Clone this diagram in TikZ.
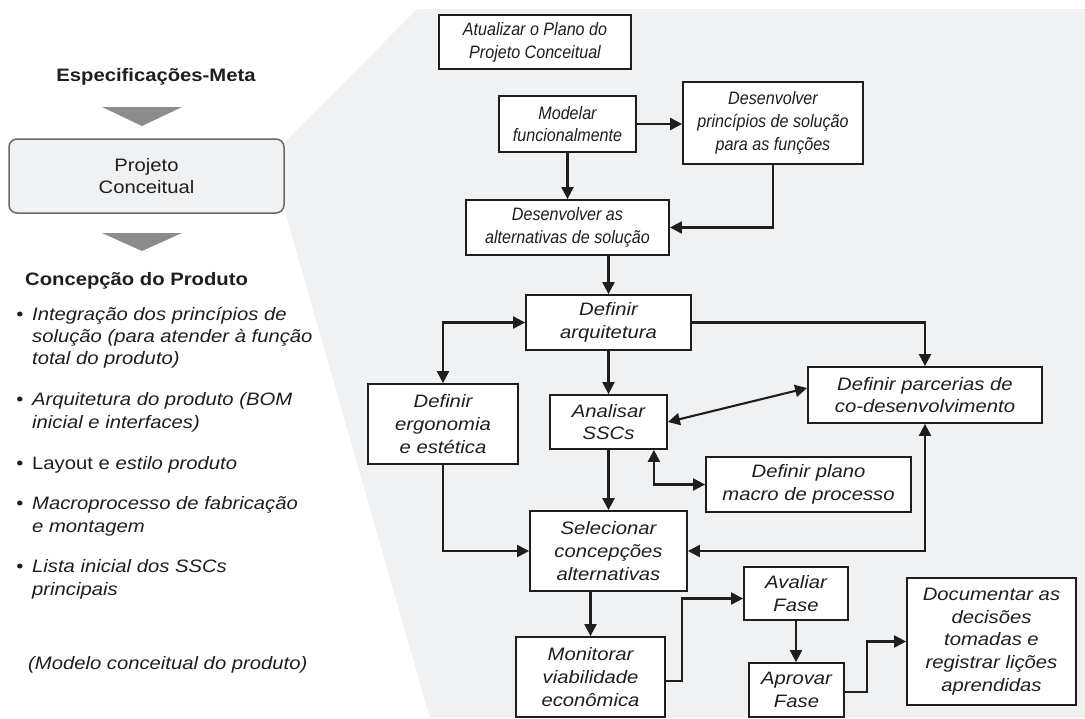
\documentclass[tikz,border=0pt]{standalone}
\usepackage{fontspec}
\setmainfont{Liberation Sans}
\newfontfamily\wideface{Liberation Sans}[FakeStretch=1.125]
\newfontfamily\narrowface{Liberation Sans}[FakeStretch=0.895]
\usetikzlibrary{arrows.meta,calc}
\definecolor{panel}{RGB}{240,241,243}
\definecolor{ink}{RGB}{30,30,30}
\definecolor{rim}{RGB}{30,30,30}
\definecolor{marker}{RGB}{140,140,140}
\definecolor{softrim}{RGB}{105,105,105}
\begin{document}
\begin{tikzpicture}[x=1pt,y=-1pt,
  stepbox/.style={draw=rim, line width=1.8pt, fill=white, inner sep=2pt, align=center,
    text=ink, font={\wideface\itshape\fontsize{18}{22.7}\selectfont}},
  narrowbox/.style={stepbox, font={\narrowface\itshape\fontsize{18}{22.7}\selectfont}},
  flow/.style={draw=rim, line width=2.1pt, -{Triangle[length=12pt,width=12pt]}},
  twoway/.style={draw=rim, line width=2.1pt,
    {Triangle[length=12pt,width=12pt]}-{Triangle[length=12pt,width=12pt]}},
  heading/.style={inner sep=0pt, anchor=base west, text=ink,
    font={\wideface\bfseries\fontsize{18}{22.7}\selectfont}},
  listline/.style={inner sep=0pt, anchor=base west, text=ink,
    font={\wideface\itshape\fontsize{18}{22.7}\selectfont}},
  dot/.style={inner sep=0pt, anchor=base, text=ink,
    font={\wideface\fontsize{18}{22.7}\selectfont}},
  downmark/.style={fill=marker}
]
% canvas and grey panel behind the detailed flow
\useasboundingbox (0,0) rectangle (1085,718);
\fill[white] (0,0) rectangle (1085,718);
\fill[panel] (417,9) -- (1085,9) -- (1085,718) -- (430,718) -- (285,212) -- (285,142) -- cycle;

% left column: phase summary
\node[heading, anchor=base] (spec) at (156,81) {Especificações-Meta};
\fill[downmark] (102,107) -- (182,107) -- (142,126) -- cycle;
\node[draw=softrim, line width=1.5pt, fill=panel, rounded corners=8pt,
      minimum width=275pt, minimum height=74pt, align=center, text=ink,
      font={\wideface\fontsize{18}{22.7}\selectfont}] (pc) at (146.5,176) {Projeto\\Conceitual};
\fill[downmark] (102,233) -- (182,233) -- (142,251) -- cycle;
\node[heading] (conc) at (25,285) {Concepção do Produto};

\node[dot] (d1) at (20,320) {\textbullet};
\node[listline] (l1) at (32,320) {Integração dos princípios de};
\node[listline] (l2) at (32,342) {solução (para atender à função};
\node[listline] (l3) at (32,364) {total do produto)};
\node[dot] (d2) at (20,405) {\textbullet};
\node[listline] (l4) at (32,405) {Arquitetura do produto (BOM};
\node[listline] (l5) at (32,428) {inicial e interfaces)};
\node[dot] (d3) at (20,469) {\textbullet};
\node[listline] (l6) at (32,469) {{\upshape Layout e} estilo produto};
\node[dot] (d4) at (20,509) {\textbullet};
\node[listline] (l7) at (32,509) {Macroprocesso de fabricação};
\node[listline] (l8) at (32,532) {e montagem};
\node[dot] (d5) at (20,572) {\textbullet};
\node[listline] (l9) at (32,572) {Lista inicial dos SSCs};
\node[listline] (l10) at (32,595) {principais};
\node[listline] (l11) at (28,669) {(Modelo conceitual do produto)};

% activity boxes
\node[narrowbox, minimum width=192pt, minimum height=54pt] (atual) at (535,42) {Atualizar o Plano do\\Projeto Conceitual};
\node[narrowbox, minimum width=137pt, minimum height=56pt] (modelar) at (567.5,124) {Modelar\\funcionalmente};
\node[narrowbox, minimum width=180pt, minimum height=82pt] (desprinc) at (773,123) {Desenvolver\\princípios de solução\\para as funções};
\node[narrowbox, minimum width=203pt, minimum height=55pt] (desalt) at (567.5,227.5) {Desenvolver as\\alternativas de solução};
\node[stepbox, minimum width=165pt, minimum height=55pt] (arq) at (608.5,322.5) {Definir\\arquitetura};
\node[stepbox, minimum width=150pt, minimum height=80pt] (ergo) at (443,424) {Definir\\ergonomia\\e estética};
\node[stepbox, minimum width=117pt, minimum height=54pt] (anal) at (608.5,422) {Analisar\\SSCs};
\node[stepbox, minimum width=234pt, minimum height=56pt] (parc) at (925,395) {Definir parcerias de\\co-desenvolvimento};
\node[stepbox, minimum width=205pt, minimum height=55pt] (plano) at (808.5,484.5) {Definir plano\\macro de processo};
\node[stepbox, minimum width=157pt, minimum height=80pt] (selec) at (608.5,551) {Selecionar\\concepções\\alternativas};
\node[stepbox, minimum width=149pt, minimum height=80pt] (monit) at (590.5,677) {Monitorar\\viabilidade\\econômica};
\node[stepbox, minimum width=104pt, minimum height=53pt] (aval) at (796,593.5) {Avaliar\\Fase};
\node[stepbox, minimum width=95pt, minimum height=54pt] (aprov) at (796.5,690) {Aprovar\\Fase};
\node[stepbox, minimum width=169pt, minimum height=127pt] (doc) at (991.5,641.5) {Documentar as\\decisões\\tomadas e\\registrar lições\\aprendidas};

% connectors
\draw[flow] (modelar.east) -- (modelar.east -| desprinc.west);
\draw[flow] (modelar.south) -- (desalt.north);
\draw[flow] (desprinc.south) |- (desalt.east);
\draw[flow] (desalt.south -| arq.north) -- (arq.north);
\draw[twoway] (ergo.north) |- (arq.west);
\draw[flow] (arq.south) -- (anal.north);
\draw[flow] (arq.east) -| (parc.north);
\draw[twoway] (anal.east) -- ([yshift=7pt]parc.west);
\draw[flow, line width=2.6pt] (anal.south) -- (selec.north);
\draw[twoway] ([xshift=-14pt]anal.south east) |- (plano.west);
\draw[flow] (ergo.south) |- (selec.west);
\draw[twoway] (parc.south) |- (selec.east);
\draw[flow] (selec.south -| monit.north) -- (monit.north);
\draw[flow] ([yshift=-4pt]monit.east) -- ++(16,0) |- ([yshift=-5pt]aval.west);
\draw[flow] (aval.south) -- (aval.south |- aprov.north);
\draw[flow] ([yshift=-2pt]aprov.east) -- ++(22,0) |- (doc.west);
\end{tikzpicture}
\end{document}
